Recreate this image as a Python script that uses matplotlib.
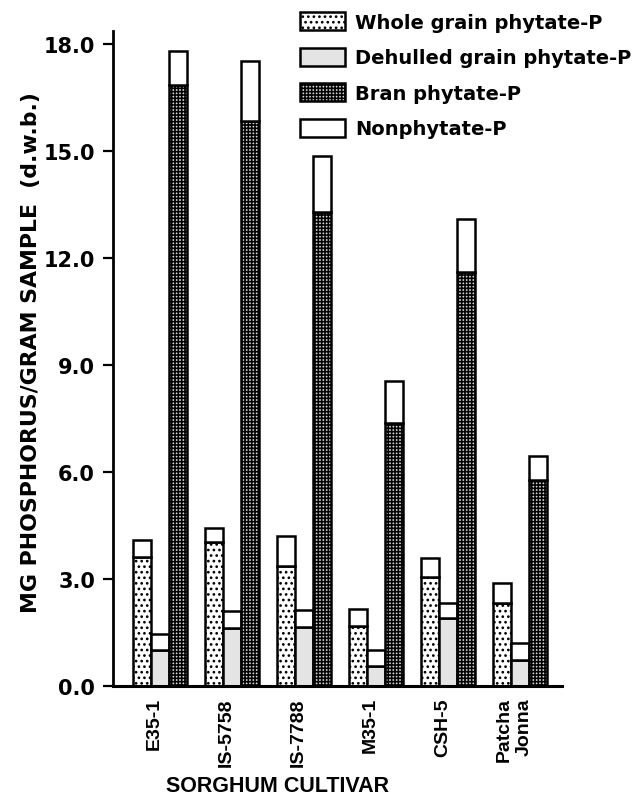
import matplotlib
matplotlib.use('Agg')
import matplotlib.pyplot as plt
from matplotlib.patches import Patch
import numpy as np

# Sorghum cultivars and phosphorus content (mg P / g sample, d.w.b.)
cultivars = ['E35-1', 'IS-5758', 'IS-7788', 'M35-1', 'CSH-5', 'Patcha\nJonna']

whole_phytate = [3.62, 4.03, 3.37, 1.69, 3.05, 2.32]
whole_nonphytate = [0.46, 0.39, 0.83, 0.46, 0.53, 0.58]

dehulled_phytate = [1.00, 1.63, 1.65, 0.56, 1.90, 0.73]
dehulled_nonphytate = [0.46, 0.48, 0.49, 0.44, 0.42, 0.48]

bran_phytate = [16.85, 15.85, 13.30, 7.38, 11.62, 5.77]
bran_nonphytate = [0.96, 1.67, 1.55, 1.17, 1.48, 0.69]

yticks = [0, 3, 6, 9, 12, 15, 18]

legend_labels = ['Whole grain phytate-P', 'Dehulled grain phytate-P',
                 'Bran phytate-P', 'Nonphytate-P']

plt.rcParams['hatch.linewidth'] = 1.15
bold_sans = ['Liberation Sans', 'DejaVu Sans']
wide_sans = ['DejaVu Sans']

fig = plt.figure(figsize=(6.4, 8.04), dpi=100)
ax = fig.add_axes([0.1766, 0.1455, 0.7016, 0.815])

x = np.arange(len(cultivars))
w = 0.25
lw = 1.8

# (offset, phytate, nonphytate, facecolor, hatch)
series = [
    (-w, whole_phytate, whole_nonphytate, 'white', '...'),
    (0.0, dehulled_phytate, dehulled_nonphytate, '#e4e4e4', None),
    (w, bran_phytate, bran_nonphytate, '#d8d8d8', '+++++'),
]

for off, phy, nonphy, face, hatch in series:
    ax.bar(x + off, phy, w, color=face, hatch=hatch, edgecolor='black',
           linewidth=lw)
    ax.bar(x + off, nonphy, w, bottom=phy, color='white', edgecolor='black',
           linewidth=lw)

ax.set_xlim(-0.653, 5.583)
ax.set_ylim(0, 18.37)

ax.spines['top'].set_visible(False)
ax.spines['right'].set_visible(False)
ax.spines['left'].set_linewidth(2.0)
ax.spines['bottom'].set_linewidth(2.2)

ax.set_yticks(yticks)
ax.set_yticklabels(['%.1f' % v for v in yticks], family=wide_sans,
                   fontweight='bold', fontsize=15)
ax.tick_params(axis='y', length=7, width=1.6, pad=6)

ax.set_xticks(x - 0.08)
ax.set_xticklabels(cultivars, rotation=90, family=bold_sans,
                   fontweight='bold', fontsize=14, va='top', ha='center',
                   multialignment='right')
ax.tick_params(axis='x', length=0, pad=8)

fig.text(0.049, 0.562, 'MG PHOSPHORUS/GRAM SAMPLE  (d.w.b.)', rotation=90,
         ha='center', va='center', family=wide_sans, fontweight='bold',
         fontsize=15.8)
fig.text(0.433, 0.022, 'SORGHUM CULTIVAR', ha='center', va='center',
         family=bold_sans, fontweight='bold', fontsize=15.5)

# Legend
handles = [
    Patch(facecolor='white', hatch='...', edgecolor='black', linewidth=lw),
    Patch(facecolor='#e4e4e4', edgecolor='black', linewidth=lw),
    Patch(facecolor='#d8d8d8', hatch='+++++', edgecolor='black', linewidth=lw),
    Patch(facecolor='white', edgecolor='black', linewidth=lw),
]
leg = ax.legend(handles, legend_labels, loc='upper left',
                bbox_to_anchor=(300 / 640, 1 - 13 / 804),
                bbox_transform=fig.transFigure, frameon=False,
                borderpad=0, borderaxespad=0, handlelength=2.3,
                handleheight=1.05, handletextpad=0.55, labelspacing=0.82,
                prop={'family': wide_sans, 'weight': 'bold', 'size': 14})

fig.savefig('out.png', dpi=100)
